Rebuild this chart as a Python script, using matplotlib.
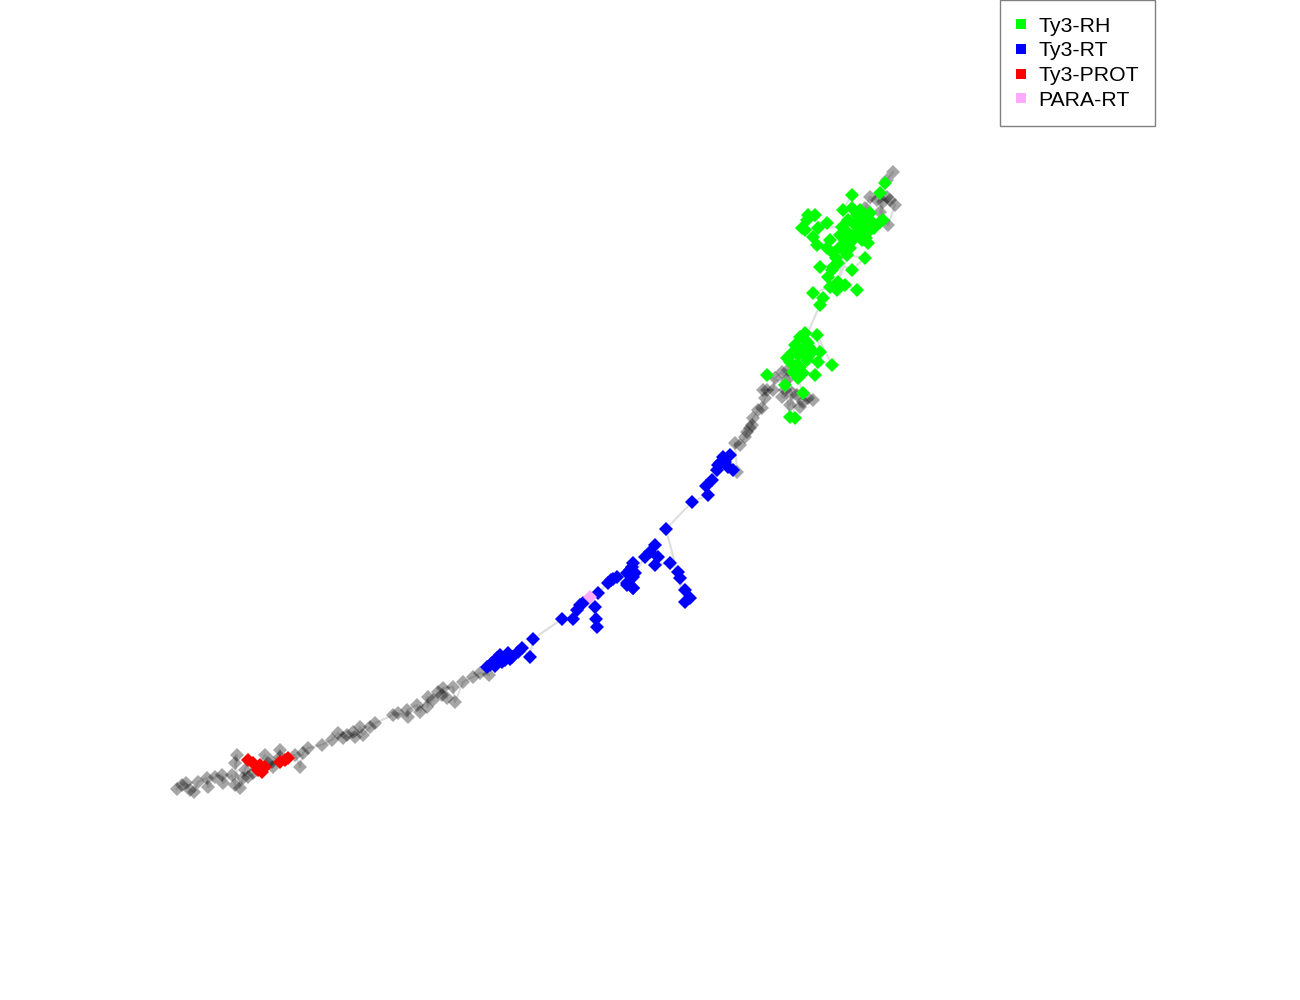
import matplotlib
matplotlib.use("Agg")
import matplotlib.pyplot as plt
from matplotlib.lines import Line2D

plt.rcParams['font.family'] = ['Liberation Sans', 'DejaVu Sans']

# Points in sequence order (x, y in image-like coordinates, y grows downward)
gray_a_x = [176.7, 181.7, 185.7, 190, 194, 198, 206.7, 208, 215, 221.7, 223, 231.7, 235, 236.7, 235, 240, 243, 245]
gray_a_y = [789, 785, 783, 790, 792, 782, 778, 787, 777, 775, 783, 775, 785, 755, 763, 788, 778, 770]

red_x = [248, 253, 258, 260, 262, 265, 280, 285, 288]
red_y = [760, 763, 770, 765, 772, 767, 762, 760, 758]

gray_b_x = [248, 253, 265, 268, 272, 273, 280, 280, 295, 300, 303, 308,
            321.7, 331.7, 338, 343, 347, 353, 355, 360, 363, 370, 375, 393, 398, 408, 407,
            417, 420, 428, 427, 433, 438, 442, 447, 443, 453, 455, 463, 473, 480, 489]
gray_b_y = [777, 773, 755, 763, 762, 767, 750, 757, 755, 767, 753, 748,
            745, 740, 733, 738, 735, 732, 737, 727, 735, 727, 723, 715, 713, 717, 710,
            705, 712, 697, 707, 700, 692, 695, 698, 688, 687, 702, 682, 677, 673, 675]

blue_a_x = [487, 490, 492, 495, 497, 500, 502, 505, 508, 510, 512, 518, 522, 530, 533,
            562, 573, 577, 580, 583, 595, 596, 597]
blue_a_y = [667, 665, 663, 666, 658, 655, 662, 660, 653, 659, 657, 652, 648, 657, 639,
            619, 619, 610, 605, 603, 607, 619, 627]

pink_x = [590]
pink_y = [597]

blue_b_x = [598, 608, 611, 613, 617, 627, 633, 627, 632, 633, 627, 633, 630, 633, 635,
            645, 650, 655, 658, 655, 670, 678, 680, 685, 690, 685,
            666, 692, 708, 706, 712, 717, 720, 723, 730, 728, 733, 725, 718]
blue_b_y = [593, 583, 580, 579, 577, 583, 588, 573, 567, 577, 585, 588, 570, 563, 573,
            557, 552, 545, 557, 565, 563, 572, 578, 590, 598, 602,
            529, 502, 495, 486, 480, 470, 463, 457, 455, 467, 470, 462, 465]

gray_c_x = [737, 735, 740, 745, 747, 750, 752, 753, 758, 762, 765, 767, 763, 773, 775,
            782, 787, 785, 792, 790, 797, 800, 803, 808, 813, 782, 788]
gray_c_y = [472, 443, 445, 437, 432, 428, 425, 418, 410, 408, 398, 390, 390, 390, 378,
            372, 380, 390, 393, 405, 395, 407, 402, 398, 400, 397, 370]

green_x = [795, 790, 785, 767, 803, 798, 787, 792, 795, 800, 805, 808, 812, 807, 800, 793,
           815, 818, 820, 817, 832, 808, 803, 797, 790, 802, 810, 805, 798,
           820, 823, 813, 830, 837, 845, 857, 828, 832, 833, 820, 838, 852, 865, 847, 850,
           827, 830, 817, 813, 805, 818, 827, 807, 815, 808, 802, 842, 847, 855, 860, 867,
           872, 857, 863, 870, 843, 852, 852, 860, 868, 868, 862, 840, 833, 880, 883, 880, 885,
           845, 850, 855, 848, 840, 836, 844, 852, 858, 862, 866, 870, 874, 846, 838]
green_y = [418, 417, 385, 375, 393, 378, 358, 353, 345, 337, 333, 343, 352, 360, 367, 372,
           375, 362, 352, 335, 365, 357, 373, 365, 362, 350, 348, 340, 355,
           305, 298, 293, 287, 290, 285, 290, 277, 270, 267, 267, 263, 270, 258, 255, 248,
           248, 240, 245, 237, 230, 228, 223, 220, 215, 215, 228, 227, 232, 237, 230, 227,
           223, 215, 217, 220, 210, 195, 208, 210, 232, 243, 240, 247, 253, 222, 220, 193, 183,
           240, 243, 225, 220, 235, 258, 250, 236, 222, 226, 238, 213, 228, 245, 282]

gray_d_x = [865, 870, 877, 883, 887, 890, 895, 888, 880, 887, 893]
gray_d_y = [208, 197, 200, 202, 197, 200, 205, 225, 212, 180, 172]

legend_labels = ['Ty3-RH', 'Ty3-RT', 'Ty3-PROT', 'PARA-RT']
legend_colors = ['#00ff00', '#0000ff', '#ff0000', '#ffaaff']

fig = plt.figure(figsize=(13, 10), dpi=100)
ax = fig.add_axes([0, 0, 1, 1])
ax.set_xlim(0, 1300)
ax.set_ylim(1000, 0)
ax.axis('off')

all_x = gray_a_x + red_x + gray_b_x + blue_a_x + pink_x + blue_b_x + gray_c_x + green_x + gray_d_x
all_y = gray_a_y + red_y + gray_b_y + blue_a_y + pink_y + blue_b_y + gray_c_y + green_y + gray_d_y
ax.plot(all_x, all_y, color='#c8c8c8', lw=1.5, alpha=0.6, zorder=1)

ms = 7.0
for gx, gy in [(gray_a_x, gray_a_y), (gray_b_x, gray_b_y), (gray_c_x, gray_c_y), (gray_d_x, gray_d_y)]:
    ax.plot(gx, gy, 'D', color='black', alpha=0.35, ms=ms, mew=0, ls='none', zorder=2)

ax.plot(red_x, red_y, 'D', color='#ff0000', ms=ms, mew=0, ls='none', zorder=3)
ax.plot(blue_a_x, blue_a_y, 'D', color='#0000ff', ms=ms, mew=0, ls='none', zorder=3)
ax.plot(blue_b_x, blue_b_y, 'D', color='#0000ff', ms=ms, mew=0, ls='none', zorder=3)
ax.plot(pink_x, pink_y, 'D', color='#ffaaff', ms=ms, mew=0, ls='none', zorder=3)
ax.plot(green_x, green_y, 'D', color='#00ff00', ms=ms, mew=0, ls='none', zorder=3)

handles = [Line2D([], [], marker='s', color=c, ls='none', ms=7, mew=0) for c in legend_colors]
leg = ax.legend(handles, legend_labels, loc='upper left', bbox_to_anchor=(1000 / 1300, 1.0),
                borderaxespad=0, fancybox=False, framealpha=1, edgecolor='#808080',
                fontsize=15.3, handlelength=0.4, handletextpad=0.62, labelspacing=0.27,
                borderpad=0.78)
leg.get_frame().set_linewidth(1.0)

fig.savefig('out.png', dpi=100)
